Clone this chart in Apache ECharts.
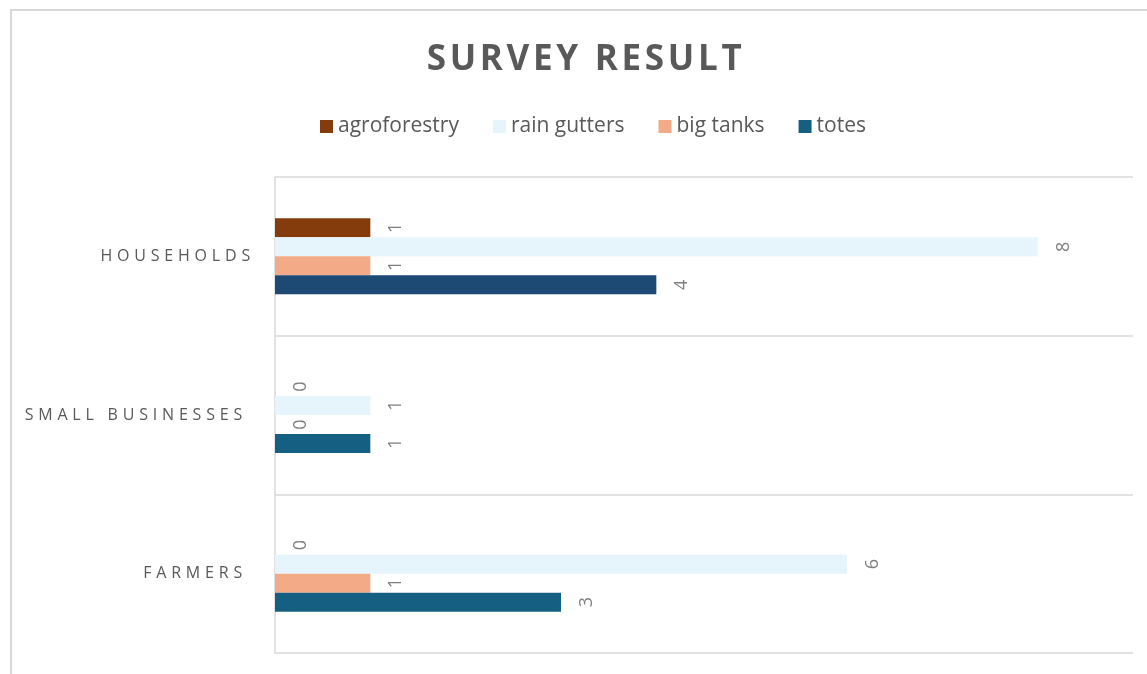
<!DOCTYPE html>
<html>
<head>
<meta charset="utf-8">
<title>Survey Result</title>
<style>
  html, body { margin: 0; padding: 0; background: #ffffff; }
  #chart { width: 1147px; height: 674px; }
</style>
<script src="https://cdn.jsdelivr.net/npm/echarts@6/dist/echarts.min.js"></script>
</head>
<body>
<div id="chart"></div>
<script>
// Survey counts per respondent group
const categories = ['HOUSEHOLDS', 'SMALL BUSINESSES', 'FARMERS'];
const seriesNames = ['agroforestry', 'rain gutters', 'big tanks', 'totes'];
const agroforestry = [1, 0, 0];
const rainGutters = [8, 1, 6];
const bigTanks = [1, 0, 1];
const totes = [4, 1, 3];

const valueMin = 0;
const valueMax = 9;

const titleText = 'SURVEY RESULT';

// Tracked-out lettering for the title and the group names
const letterSpacing = {};
letterSpacing[titleText] = '3.7px';
categories.forEach(function (c) { letterSpacing[c] = '4.8px'; });

const baseFillText = CanvasRenderingContext2D.prototype.fillText;
CanvasRenderingContext2D.prototype.fillText = function (text, x, y, maxWidth) {
  if ('letterSpacing' in this) {
    this.letterSpacing = letterSpacing[text] || '0px';
  }
  if (maxWidth === undefined) return baseFillText.call(this, text, x, y);
  return baseFillText.call(this, text, x, y, maxWidth);
};

const colors = ['#843C0C', '#E6F4FC', '#F2AB86', '#156082'];
// The households "totes" bar is drawn in a deeper navy
const totesColors = ['#1C4A74', '#156082', '#156082'];

const FONT = '"Open Sans", "Noto Sans", sans-serif';

// Value labels read bottom-to-top, just past the end of each bar
const barLabel = {
  show: true,
  position: 'right',
  distance: 26,
  rotate: 90,
  align: 'center',
  verticalAlign: 'middle',
  color: '#7F7F7F',
  fontSize: 18,
  fontFamily: FONT
};

function makeSeries(name, values, color, perItemColors) {
  return {
    name: name,
    type: 'bar',
    barWidth: 19,
    barGap: '0%',
    itemStyle: { color: color },
    label: barLabel,
    data: values.map(function (v, i) {
      if (perItemColors) return { value: v, itemStyle: { color: perItemColors[i] } };
      return v;
    })
  };
}

const labelStyle = { color: '#595959', fontSize: 16, fontFamily: FONT };

const chart = echarts.init(document.getElementById('chart'), null, { renderer: 'canvas' });

chart.setOption({
  backgroundColor: '#ffffff',
  animation: false,
  color: colors,
  title: {
    text: titleText,
    left: 581,
    textAlign: 'center',
    top: 38,
    textStyle: {
      color: '#595959',
      fontSize: 35,
      fontWeight: 'bold',
      fontFamily: FONT
    }
  },
  legend: {
    top: 111,
    left: 315,
    itemWidth: 13,
    itemHeight: 13,
    itemGap: 34,
    icon: 'rect',
    data: seriesNames,
    textStyle: {
      color: '#595959',
      fontSize: 21,
      fontFamily: FONT
    }
  },
  graphic: [{
    type: 'rect',
    silent: true,
    shape: { x: 11, y: 10, width: 1300, height: 800 },
    style: { fill: 'none', stroke: '#D9D9D9', lineWidth: 2 }
  }],
  grid: {
    left: 275,
    right: 14,
    top: 177,
    bottom: 21,
    containLabel: false
  },
  xAxis: {
    type: 'value',
    min: valueMin,
    max: valueMax,
    interval: 1,
    axisLine: { show: false },
    axisTick: { show: false },
    axisLabel: { show: false },
    splitLine: { show: false }
  },
  yAxis: {
    type: 'category',
    inverse: true,
    data: categories,
    axisLine: { show: true, lineStyle: { color: '#D9D9D9', width: 1.5 } },
    axisTick: { show: false },
    splitLine: { show: true, lineStyle: { color: '#D9D9D9', width: 1.5 } },
    axisLabel: Object.assign({
      margin: 20,
      formatter: function (value, index) {
        return index === 0 ? '{a|' + value + '}' : '{b|' + value + '}';
      },
      rich: {
        a: Object.assign({}, labelStyle),
        b: Object.assign({ padding: [0, 8, 0, 0] }, labelStyle)
      }
    }, labelStyle)
  },
  series: [
    makeSeries(seriesNames[0], agroforestry, colors[0]),
    makeSeries(seriesNames[1], rainGutters, colors[1]),
    makeSeries(seriesNames[2], bigTanks, colors[2]),
    makeSeries(seriesNames[3], totes, colors[3], totesColors)
  ]
});
</script>
</body>
</html>
